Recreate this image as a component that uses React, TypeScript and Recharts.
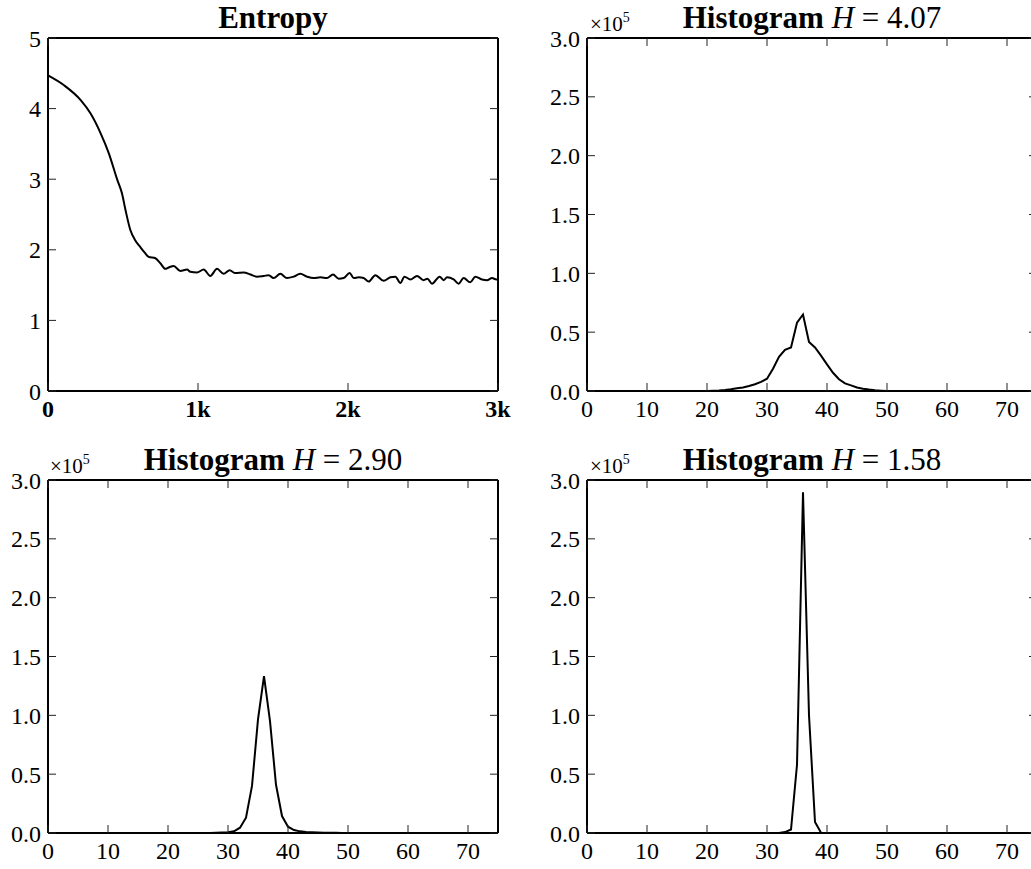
import { LineChart, Line, XAxis, YAxis } from 'recharts';

const FONT = '"Liberation Serif", "DejaVu Serif", serif';

// entropy over training steps
const entropySteps = [
  0, 107, 218, 284, 351, 405, 462, 493, 517, 549, 580, 615, 645, 671, 716, 749, 782, 805, 838, 882,
  927, 949, 993, 1038, 1082, 1127, 1171, 1211, 1249, 1305, 1349, 1393, 1438, 1471, 1504, 1549, 1593,
  1638, 1682, 1727, 1771, 1816, 1860, 1900, 1938, 1971, 2011, 2038, 2071, 2104, 2138, 2182, 2238,
  2282, 2316, 2349, 2376, 2416, 2460, 2504, 2530, 2560, 2611, 2638, 2660, 2704, 2738, 2771, 2815,
  2849, 2893, 2927, 2960, 2989, 3000,
];
const entropyValues = [
  4.47, 4.33, 4.12, 3.93, 3.65, 3.37, 2.99, 2.8, 2.56, 2.28, 2.14, 2.04, 1.96, 1.9, 1.88, 1.81, 1.73,
  1.75, 1.77, 1.7, 1.72, 1.69, 1.68, 1.72, 1.63, 1.73, 1.66, 1.71, 1.67, 1.68, 1.65, 1.62, 1.63, 1.64,
  1.6, 1.66, 1.6, 1.62, 1.66, 1.62, 1.6, 1.61, 1.6, 1.65, 1.59, 1.6, 1.67, 1.6, 1.61, 1.6, 1.55, 1.64,
  1.56, 1.61, 1.62, 1.53, 1.62, 1.58, 1.63, 1.57, 1.59, 1.52, 1.62, 1.57, 1.61, 1.58, 1.52, 1.6, 1.54,
  1.62, 1.58, 1.57, 1.6, 1.58, 1.58,
];

// histogram counts for bins 0..75
const hist407 = [
  0, 0, 0, 0, 0, 0, 0, 0, 0, 0, 0, 0, 0, 0, 0, 0, 0, 0, 0, 0,
  100, 200, 400, 800, 1400, 2300, 3000, 4200, 5700, 7700,
  10500, 19000, 29000, 35000, 37000, 58000, 65000, 41600, 37000, 30000,
  22600, 15500, 10000, 6500, 4800, 3000, 2000, 1200, 600, 300,
  100, 0, 0, 0, 0, 0, 0, 0, 0, 0, 0, 0, 0, 0, 0, 0, 0, 0, 0, 0, 0, 0, 0, 0, 0, 0,
];
const hist290 = [
  0, 0, 0, 0, 0, 0, 0, 0, 0, 0, 0, 0, 0, 0, 0, 0, 0, 0, 0, 0,
  0, 0, 0, 0, 0, 0, 0, 100, 200, 400,
  700, 1400, 4500, 13000, 40000, 96500, 133300, 95000, 41000, 14400,
  5400, 2500, 1400, 900, 600, 400, 300, 200, 150, 100,
  80, 0, 0, 0, 0, 0, 0, 0, 0, 0, 0, 0, 0, 0, 0, 0, 0, 0, 0, 0, 0, 0, 0, 0, 0, 0,
];
const hist158 = [
  0, 0, 0, 0, 0, 0, 0, 0, 0, 0, 0, 0, 0, 0, 0, 0, 0, 0, 0, 0,
  0, 0, 0, 0, 0, 0, 0, 0, 0, 0,
  0, 0, 100, 800, 3000, 58000, 289500, 100000, 9300, 300,
  0, 0, 0, 0, 0, 0, 0, 0, 0, 0,
  0, 0, 0, 0, 0, 0, 0, 0, 0, 0, 0, 0, 0, 0, 0, 0, 0, 0, 0, 0, 0, 0, 0, 0, 0, 0,
];

const entropyXTicks = [0, 1000, 2000, 3000];
const entropyXLabels = ['0', '1k', '2k', '3k'];
const entropyYTicks = [0, 1, 2, 3, 4, 5];
const entropyYLabels = ['0', '1', '2', '3', '4', '5'];
const histXTicks = [0, 10, 20, 30, 40, 50, 60, 70];
const histXLabels = ['0', '10', '20', '30', '40', '50', '60', '70'];
const histYTicks = [0, 50000, 100000, 150000, 200000, 250000, 300000];
const histYLabels = ['0.0', '0.5', '1.0', '1.5', '2.0', '2.5', '3.0'];

const entropyData = entropySteps.map((s, i) => ({ x: s, y: entropyValues[i] }));
const toHist = (counts: number[]) => counts.map((c, i) => ({ x: i, y: c }));

const PLOT_W = 450;
const PLOT_H = 353;
const TICK_LEN = 8;
const spine = { stroke: '#000', strokeWidth: 2 };

// ticks point inward, like matplotlib; labels drawn by hand next to them
function tickRenderer(side: string, ticks: number[], labels?: string[], bold?: boolean) {
  return (p: any) => {
    const i = ticks.indexOf(p.payload.value);
    const label = labels ? labels[i] : null;
    const txt = { fill: '#000', fontSize: 24, fontFamily: FONT, fontWeight: bold ? 'bold' : 'normal' } as any;
    if (side === 'left') {
      return (
        <g>
          <line x1={p.x} y1={p.y} x2={p.x + TICK_LEN} y2={p.y} stroke="#222" strokeWidth={1} />
          {label != null && (
            <text x={p.x - 7} y={p.y} dy="0.36em" textAnchor="end" {...txt}>
              {label}
            </text>
          )}
        </g>
      );
    }
    if (side === 'right') {
      return <line x1={p.x} y1={p.y} x2={p.x - TICK_LEN} y2={p.y} stroke="#222" strokeWidth={1} />;
    }
    if (side === 'top') {
      return <line x1={p.x} y1={p.y} x2={p.x} y2={p.y + TICK_LEN} stroke="#222" strokeWidth={1} />;
    }
    return (
      <g>
        <line x1={p.x} y1={p.y} x2={p.x} y2={p.y - TICK_LEN} stroke="#222" strokeWidth={1} />
        {label != null && (
          <text x={p.x} y={p.y + 9} dy="0.72em" textAnchor="middle" {...txt}>
            {label}
          </text>
        )}
      </g>
    );
  };
}

function Panel(props: {
  left: number;
  top: number;
  data: any[];
  smooth?: boolean;
  xDomain: number[];
  yDomain: number[];
  xTicks: number[];
  yTicks: number[];
  xLabels: string[];
  yLabels: string[];
  boldX?: boolean;
}) {
  const m = { top: 39, right: 29, bottom: 44, left: 57 };
  const common = { type: 'number' as const, interval: 0, allowDataOverflow: true, tickSize: 0, tickMargin: 0, tickLine: false, axisLine: spine };
  return (
    <div style={{ position: 'absolute', left: props.left - m.left - 1, top: props.top - m.top - 1 }}>
      <LineChart
        width={m.left + 1 + PLOT_W + 1 + m.right}
        height={m.top + 1 + PLOT_H + 1 + m.bottom}
        data={props.data}
        margin={m}
      >
        <XAxis
          {...common}
          xAxisId="b"
          dataKey="x"
          orientation="bottom"
          domain={props.xDomain}
          ticks={props.xTicks}
          height={1}
          tick={tickRenderer('bottom', props.xTicks, props.xLabels, props.boldX)}
        />
        <XAxis
          {...common}
          xAxisId="t"
          orientation="top"
          domain={props.xDomain}
          ticks={props.xTicks}
          height={1}
          tick={tickRenderer('top', props.xTicks)}
        />
        <YAxis
          {...common}
          yAxisId="l"
          orientation="left"
          domain={props.yDomain}
          ticks={props.yTicks}
          width={1}
          tick={tickRenderer('left', props.yTicks, props.yLabels)}
        />
        <YAxis
          {...common}
          yAxisId="r"
          orientation="right"
          domain={props.yDomain}
          ticks={props.yTicks}
          width={1}
          tick={tickRenderer('right', props.yTicks)}
        />
        <Line
          xAxisId="b"
          yAxisId="l"
          dataKey="y"
          type={props.smooth ? 'monotone' : 'linear'}
          stroke="#000"
          strokeWidth={2}
          dot={false}
          isAnimationActive={false}
        />
      </LineChart>
    </div>
  );
}

function HistTitle({ x, y, h }: { x: number; y: number; h: string }) {
  return (
    <text x={x} y={y} textAnchor="middle" fontFamily={FONT} fontSize={31} fill="#000">
      <tspan fontWeight="bold">Histogram </tspan>
      <tspan fontStyle="italic">H</tspan>
      <tspan>{' = ' + h}</tspan>
    </text>
  );
}

function Multiplier({ x, y }: { x: number; y: number }) {
  return (
    <text x={x} y={y} fontFamily={FONT} fontSize={21} fill="#000">
      ×10
      <tspan fontSize={14} dy={-9}>5</tspan>
    </text>
  );
}

export default function App() {
  return (
    <div
      style={{
        position: 'absolute',
        left: 0,
        top: 0,
        width: 1031,
        height: 869,
        overflow: 'hidden',
        background: '#fff',
      }}
    >
      <Panel
        left={48}
        top={38}
        data={entropyData}
        smooth
        xDomain={[0, 3000]}
        yDomain={[0, 5]}
        xTicks={entropyXTicks}
        yTicks={entropyYTicks}
        xLabels={entropyXLabels}
        yLabels={entropyYLabels}
        boldX
      />
      <Panel
        left={587}
        top={38}
        data={toHist(hist407)}
        xDomain={[0, 75]}
        yDomain={[0, 300000]}
        xTicks={histXTicks}
        yTicks={histYTicks}
        xLabels={histXLabels}
        yLabels={histYLabels}
      />
      <Panel
        left={48}
        top={480}
        data={toHist(hist290)}
        xDomain={[0, 75]}
        yDomain={[0, 300000]}
        xTicks={histXTicks}
        yTicks={histYTicks}
        xLabels={histXLabels}
        yLabels={histYLabels}
      />
      <Panel
        left={587}
        top={480}
        data={toHist(hist158)}
        xDomain={[0, 75]}
        yDomain={[0, 300000]}
        xTicks={histXTicks}
        yTicks={histYTicks}
        xLabels={histXLabels}
        yLabels={histYLabels}
      />
      <svg
        width={1031}
        height={869}
        style={{ position: 'absolute', left: 0, top: 0, pointerEvents: 'none' }}
      >
        <text x={273} y={28} textAnchor="middle" fontFamily={FONT} fontSize={31} fontWeight="bold" fill="#000">
          Entropy
        </text>
        <HistTitle x={812} y={28} h="4.07" />
        <HistTitle x={273} y={470} h="2.90" />
        <HistTitle x={812} y={470} h="1.58" />
        <Multiplier x={590} y={31} />
        <Multiplier x={50} y={473} />
        <Multiplier x={590} y={473} />
      </svg>
    </div>
  );
}
